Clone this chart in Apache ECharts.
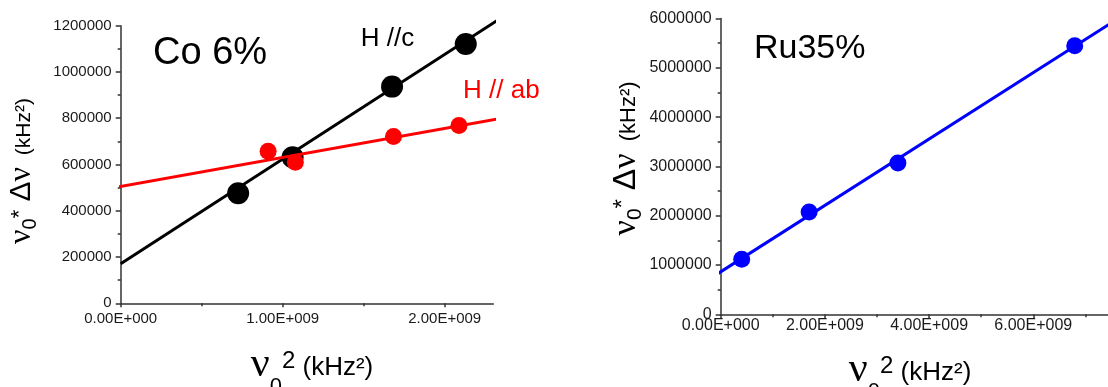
<!DOCTYPE html>
<html><head><meta charset="utf-8">
<script src="https://cdn.jsdelivr.net/npm/echarts@6/dist/echarts.min.js"></script>
<style>html,body{margin:0;padding:0;background:#fff}#c{width:1108px;height:387px}</style>
</head><body><div id="c"></div>
<script>
const FONT = "'Liberation Sans', Arial, sans-serif";
const SERIF = "'Liberation Serif', 'Times New Roman', serif";

// ---- data: Co 6% panel ----
const coHcX = [0.725e9, 1.061e9, 1.675e9, 2.130e9];
const coHcY = [476000, 631700, 936700, 1120900];
const coHabX = [0.910e9, 1.078e9, 1.684e9, 2.088e9];
const coHabY = [657600, 610000, 720900, 768300];
const coHcFitX = [0, 2.331e9];
const coHcFitY = [171200, 1225900];
const coHabFitX = [-0.022e9, 2.442e9];
const coHabFitY = [502200, 811500];

// ---- data: Ru35% panel ----
const ruX = [0.403e9, 1.697e9, 3.401e9, 6.795e9];
const ruY = [1115000, 2074000, 3067000, 5445000];
const ruFitX = [-0.067e9, 7.6e9];
const ruFitY = [817000, 5979000];

// ---- tick values / labels ----
const leftXTicks = [0, 1e9, 2e9];
const leftXTickLabels = ['0.00E+000', '1.00E+009', '2.00E+009'];
const leftYTicks = [0, 200000, 400000, 600000, 800000, 1000000, 1200000];
const leftYTickLabels = ['0', '200000', '400000', '600000', '800000', '1000000', '1200000'];
const rightXTicks = [0, 2e9, 4e9, 6e9];
const rightXTickLabels = ['0.00E+000', '2.00E+009', '4.00E+009', '6.00E+009'];
const rightYTicks = [0, 1000000, 2000000, 3000000, 4000000, 5000000, 6000000];
const rightYTickLabels = ['0', '1000000', '2000000', '3000000', '4000000', '5000000', '6000000'];

const zip = (xs, ys) => xs.map((x, i) => [x, ys[i]]);
const lab = (ticks, labels) => (v) => { const i = ticks.indexOf(v); return i < 0 ? '' : labels[i]; };

const AX = '#333';
function axisCommon(ticks, labels, fs, margin, tickLen) {
  return {
    axisLine: { show: true, onZero: false, lineStyle: { color: AX, width: 1.5 } },
    axisTick: { show: true, inside: false, length: tickLen, customValues: ticks, lineStyle: { color: AX, width: 1.5 } },
    minorTick: { show: true, splitNumber: 2, length: 3, lineStyle: { color: AX, width: 1.5 } },
    axisLabel: { show: true, customValues: ticks, formatter: lab(ticks, labels), fontSize: fs, fontFamily: FONT, color: '#1a1a1a', margin: margin },
    splitLine: { show: false }
  };
}

function tok(fs, fam, top) {
  return { fontSize: fs, fontFamily: fam, color: '#000', verticalAlign: 'top', padding: [Math.max(0, Math.round(top)), 0, 0, 0] };
}
function yTitle(k) {
  const n = 32 * k, g = 30 * k, s = 20 * k, p = 22 * k, u = 21 * k;
  const B = 0.8375 * n; // baseline from line top
  return {
    rich: {
      n: tok(Math.round(n), SERIF, 0),
      g: tok(Math.round(g), FONT, B - 0.85 * g),
      s: tok(Math.round(s), FONT, B + 5 * k - 0.85 * s),
      p: tok(Math.round(p), FONT, B - 5 * k - 0.85 * p),
      u: tok(Math.round(u), FONT, B - 0.5 * k - 0.85 * u)
    }
  };
}
function xTitle() {
  const B = 0.8375 * 42;
  return {
    rich: {
      n: tok(42, SERIF, 0),
      s: tok(22, FONT, B - 3 ),
      p: tok(24, FONT, B - 10 - 0.85 * 24),
      u: tok(26, FONT, B - 2.5 - 0.85 * 26)
    }
  };
}
const yName = '{n|ν}{s|0}{p|*}{g| Δ}{n|ν}{u|  (kHz²)}';
const xName = '{n|ν}{s|0}{p|2}{u| (kHz²)}';

const chart = echarts.init(document.getElementById('c'), null, { renderer: 'canvas' });
const option = {
  animation: false,
  backgroundColor: '#fff',
  grid: [
    { left: 120.7, top: 25.7, width: 372.6, height: 277.6, outerBoundsMode: 'none', containLabel: false },
    { left: 720.7, top: 18.5, width: 390.75, height: 295.8, outerBoundsMode: 'none', containLabel: false }
  ],
  xAxis: [
    Object.assign({ type: 'value', gridIndex: 0, min: 0, max: 2.3e9, interval: 1e9,
      name: xName, nameLocation: 'middle', nameGap: 41, nameMoveOverlap: false, nameTextStyle: Object.assign(xTitle(), { padding: [0, 0, 0, 10] }) },
      axisCommon(leftXTicks, leftXTickLabels, 15, 8, 4)),
    Object.assign({ type: 'value', gridIndex: 1, min: 0, max: 7.5e9, interval: 2e9,
      name: xName, nameLocation: 'middle', nameGap: 35, nameMoveOverlap: false, nameTextStyle: Object.assign(xTitle(), { padding: [0, 12, 0, 0] }) },
      axisCommon(rightXTicks, rightXTickLabels, 16, 3, 4))
  ],
  yAxis: [
    Object.assign({ type: 'value', gridIndex: 0, min: 0, max: 1200000, interval: 200000,
      name: yName, nameLocation: 'middle', nameGap: 80, nameMoveOverlap: false, nameTextStyle: Object.assign(yTitle(1), { padding: [0, 13, 0, 0] }) },
      axisCommon(leftYTicks, leftYTickLabels, 15, 9, 5)),
    Object.assign({ type: 'value', gridIndex: 1, min: 0, max: 6000000, interval: 1000000,
      name: yName, nameLocation: 'middle', nameGap: 75, nameMoveOverlap: false, nameTextStyle: Object.assign(yTitle(1.07), { padding: [0, 0, 0, 16] }) },
      axisCommon(rightYTicks, rightYTickLabels, 16, 9, 5))
  ],
  series: [
    { name: 'H //c fit', type: 'line', xAxisIndex: 0, yAxisIndex: 0, data: zip(coHcFitX, coHcFitY), symbol: 'none', clip: false, silent: true, lineStyle: { color: '#000', width: 3 }, z: 2 },
    { name: 'H //c', type: 'scatter', xAxisIndex: 0, yAxisIndex: 0, data: zip(coHcX, coHcY), symbolSize: 22, itemStyle: { color: '#000', opacity: 1 }, z: 3 },
    { name: 'H // ab fit', type: 'line', xAxisIndex: 0, yAxisIndex: 0, data: zip(coHabFitX, coHabFitY), symbol: 'none', clip: false, silent: true, lineStyle: { color: '#ff0000', width: 3 }, z: 4 },
    { name: 'H // ab', type: 'scatter', xAxisIndex: 0, yAxisIndex: 0, data: zip(coHabX, coHabY), symbolSize: 17, itemStyle: { color: '#ff0000', opacity: 1 }, z: 5 },
    { name: 'Ru35% fit', type: 'line', xAxisIndex: 1, yAxisIndex: 1, data: zip(ruFitX, ruFitY), symbol: 'none', clip: false, silent: true, lineStyle: { color: '#0000ff', width: 3 }, z: 2 },
    { name: 'Ru35%', type: 'scatter', xAxisIndex: 1, yAxisIndex: 1, data: zip(ruX, ruY), symbolSize: 17, itemStyle: { color: '#0000ff', opacity: 1 }, z: 3 }
  ],
  graphic: [
    { type: 'text', x: 153, y: 66.7 - 0.3465 * 38, style: { text: 'Co 6%', font: '38px ' + FONT, fill: '#000', align: 'left', verticalAlign: 'middle' } },
    { type: 'text', x: 360.7, y: 47.7 - 0.3465 * 26, style: { text: 'H //c', font: '26px ' + FONT, fill: '#000', align: 'left', verticalAlign: 'middle' } },
    { type: 'text', x: 463, y: 100 - 0.3465 * 26, style: { text: 'H // ab', font: '26px ' + FONT, fill: '#ff0000', align: 'left', verticalAlign: 'middle' } },
    { type: 'text', x: 754, y: 60.7 - 0.3465 * 34, style: { text: 'Ru35%', font: '34px ' + FONT, fill: '#000', align: 'left', verticalAlign: 'middle' } }
  ]
};
chart.setOption(option);
</script></body></html>
